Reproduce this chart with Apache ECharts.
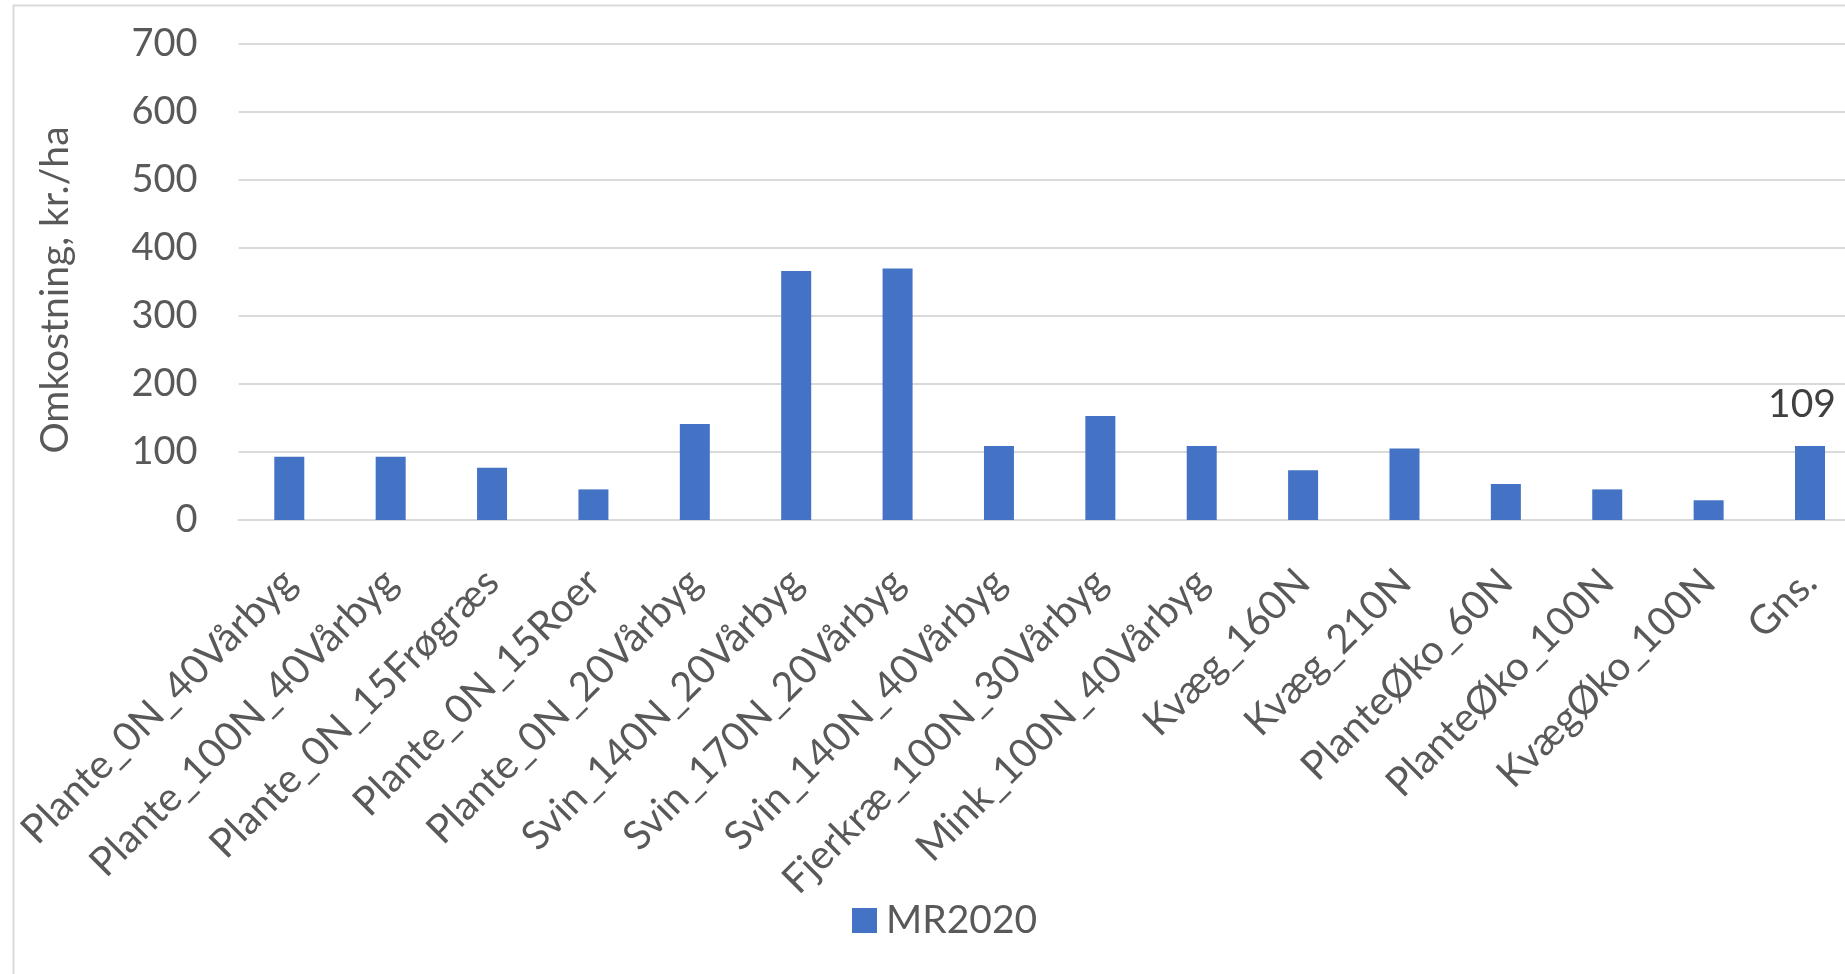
<!DOCTYPE html>
<html>
<head>
<meta charset="utf-8">
<style>
  html, body { margin: 0; padding: 0; background: #ffffff; }
  #chart { width: 1845px; height: 974px; }
</style>
<script src="https://cdn.jsdelivr.net/npm/echarts@6/dist/echarts.min.js"></script>
</head>
<body>
<div id="chart"></div>
<script>
// Farm types along the x axis
const categories = [
  'Plante_0N_40Vårbyg',
  'Plante_100N_40Vårbyg',
  'Plante_0N_15Frøgræs',
  'Plante_0N_15Roer',
  'Plante_0N_20Vårbyg',
  'Svin_140N_20Vårbyg',
  'Svin_170N_20Vårbyg',
  'Svin_140N_40Vårbyg',
  'Fjerkræ_100N_30Vårbyg',
  'Mink_100N_40Vårbyg',
  'Kvæg_160N',
  'Kvæg_210N',
  'PlanteØko_60N',
  'PlanteØko_100N',
  'KvægØko_100N',
  'Gns.'
];

// Cost per hectare, MR2020
const seriesName = 'MR2020';
const costValues = [93, 93, 77, 45, 141, 366, 370, 109, 153, 109, 73, 105, 53, 45, 29, 109];

// Value axis
const yMin = 0;
const yMax = 700;
const yStep = 100;
const yTitle = 'Omkostning, kr./ha';

// Only the average bar carries a value label
const labelledCategory = 'Gns.';

const FONT = 'Lato, "Open Sans", sans-serif';
const TEXT_GREY = '#595959';
const GRID_GREY = '#d9d9d9';
const BAR_BLUE = '#4472c4';

const barData = costValues.map((v, i) => ({
  value: v,
  label: { show: categories[i] === labelledCategory }
}));

const chart = echarts.init(document.getElementById('chart'), null, { renderer: 'canvas' });

chart.setOption({
  animation: false,
  backgroundColor: '#ffffff',
  textStyle: { fontFamily: FONT },
  graphic: [{
    type: 'rect',
    left: 11,
    top: 3,
    shape: { x: 0, y: 0, width: 1900, height: 1100 },
    style: { fill: 'none', stroke: GRID_GREY, lineWidth: 2 },
    silent: true,
    z: -1
  }],
  // plot area runs on past the right edge of the canvas
  grid: {
    left: 238.6,
    width: 1622.1,
    top: 44,
    bottom: 454,
    containLabel: false,
    outerBoundsMode: 'none'
  },
  legend: {
    data: [seriesName],
    left: 852,
    top: 901,
    padding: 0,
    icon: 'rect',
    itemWidth: 25,
    itemHeight: 25,
    textStyle: {
      fontFamily: FONT,
      fontSize: 39,
      color: TEXT_GREY,
      padding: [0, 0, 0, 4]
    }
  },
  xAxis: {
    type: 'category',
    data: categories,
    axisLine: { show: true, lineStyle: { color: GRID_GREY, width: 2 } },
    axisTick: { show: false },
    axisLabel: {
      interval: 0,
      rotate: 45,
      margin: 56,
      fontFamily: FONT,
      fontSize: 40,
      color: TEXT_GREY
    }
  },
  yAxis: {
    type: 'value',
    min: yMin,
    max: yMax,
    interval: yStep,
    name: yTitle,
    nameLocation: 'middle',
    nameRotate: 90,
    nameGap: 164,
    nameTextStyle: {
      fontFamily: FONT,
      fontSize: 39,
      color: TEXT_GREY,
      padding: [0, 16, 0, 0]
    },
    axisLine: { show: false },
    axisTick: { show: false },
    axisLabel: {
      margin: 41,
      fontFamily: FONT,
      fontSize: 38,
      color: TEXT_GREY
    },
    splitLine: { show: true, lineStyle: { color: GRID_GREY, width: 2 } }
  },
  series: [{
    name: seriesName,
    type: 'bar',
    data: barData,
    barWidth: 30,
    itemStyle: { color: BAR_BLUE },
    label: {
      position: 'top',
      distance: 22,
      offset: [-8, 0],
      fontFamily: FONT,
      fontSize: 39,
      color: '#404040'
    }
  }]
});
</script>
</body>
</html>
